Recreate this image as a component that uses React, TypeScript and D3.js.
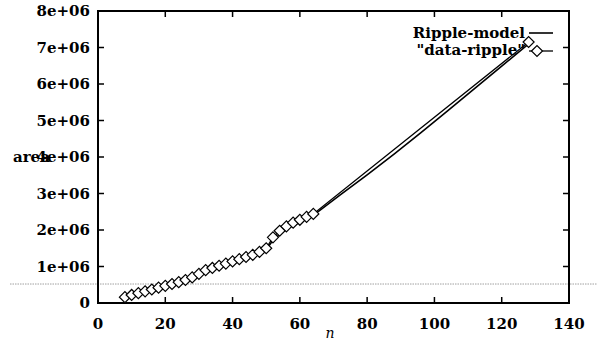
import React from "react";
import * as d3 from "d3";

const dataN = [8, 10, 12, 14, 16, 18, 20, 22, 24, 26, 28, 30, 32, 34, 36, 38, 40, 42, 44, 46, 48, 50, 52, 54, 56, 58, 60, 62, 64, 128];
const dataV = [0.16, 0.22, 0.27, 0.32, 0.37, 0.42, 0.47, 0.52, 0.57, 0.63, 0.70, 0.80, 0.90, 0.96, 1.02, 1.08, 1.14, 1.20, 1.26, 1.32, 1.40, 1.50, 1.80, 1.98, 2.10, 2.20, 2.28, 2.36, 2.44, 7.15];
const modelN = [8, 12, 16, 20, 24, 28, 32, 36, 40, 44, 48, 50, 52, 56, 60, 64, 72, 80, 88, 96, 104, 112, 120, 128];
const modelV = [0.12, 0.23, 0.33, 0.44, 0.55, 0.67, 0.85, 0.98, 1.11, 1.23, 1.36, 1.46, 1.72, 2.03, 2.22, 2.40, 2.96, 3.51, 4.08, 4.67, 5.27, 5.88, 6.49, 7.10];
const xTicks = [0, 20, 40, 60, 80, 100, 120, 140];
const yTicks = [0, 1, 2, 3, 4, 5, 6, 7, 8];
const yTickLabels = ["0", "1e+06", "2e+06", "3e+06", "4e+06", "5e+06", "6e+06", "7e+06", "8e+06"];
const scanLineValue = 0.52;

export default function App() {
  const W = 597, H = 345;
  const left = 98, right = 569, top = 11, bottom = 303;
  const x = d3.scaleLinear().domain([0, 140]).range([left, right]);
  const y = d3.scaleLinear().domain([0, 8]).range([bottom, top]);
  const font = "'DejaVu Serif', serif";
  const lineGen = d3.line<[number, number]>().x(d => x(d[0])).y(d => y(d[1]));
  const modelPath = lineGen(modelN.map((n, i) => [n, modelV[i]] as [number, number]));
  const dataPath = lineGen(dataN.map((n, i) => [n, dataV[i]] as [number, number]));
  const diamond = (cx: number, cy: number, r = 5.5) => `M${cx - r},${cy}L${cx},${cy - r}L${cx + r},${cy}L${cx},${cy + r}Z`;
  const tl = 6;
  return (
    <svg width={W} height={H} style={{ position: "absolute", left: 0, top: 0, background: "#fff" }} fontFamily={font}>
      <rect width={W} height={H} fill="#fff" />
      <line x1={10} x2={W} y1={y(scanLineValue)} y2={y(scanLineValue)} stroke="#888" strokeWidth={0.8} strokeDasharray="1.5,1" />
      {xTicks.map(t => (
        <g key={"x" + t}>
          <line x1={x(t)} x2={x(t)} y1={bottom} y2={bottom - tl} stroke="#000" strokeWidth={1.5} />
          <line x1={x(t)} x2={x(t)} y1={top} y2={top + tl} stroke="#000" strokeWidth={1.5} />
          <text x={x(t)} y={329} textAnchor="middle" fontSize={15} fontWeight="bold">{t}</text>
        </g>
      ))}
      {yTicks.map((t, i) => (
        <g key={"y" + t}>
          <line x1={left} x2={left + tl} y1={y(t)} y2={y(t)} stroke="#000" strokeWidth={1.5} />
          <line x1={right} x2={right - tl} y1={y(t)} y2={y(t)} stroke="#000" strokeWidth={1.5} />
          <text x={90} y={y(t) + 5} textAnchor="end" fontSize={15} fontWeight="bold">{yTickLabels[i]}</text>
        </g>
      ))}
      <rect x={left} y={top} width={right - left} height={bottom - top} fill="none" stroke="#000" strokeWidth={2} />
      <text x={13} y={162} fontSize={15} fontWeight="bold">area</text>
      <text x={330} y={338} fontSize={14} fontStyle="italic" textAnchor="middle">n</text>
      <path d={modelPath || ""} fill="none" stroke="#000" strokeWidth={1.6} />
      <path d={dataPath || ""} fill="none" stroke="#000" strokeWidth={1.3} />
      {dataN.map((n, i) => (
        <path key={"d" + n} d={diamond(x(n), y(dataV[i]))} fill="#fff" stroke="#000" strokeWidth={1.2} />
      ))}
      <text x={525} y={38} textAnchor="end" fontSize={15} fontWeight="bold">Ripple-model</text>
      <line x1={529} x2={553} y1={33} y2={33} stroke="#000" strokeWidth={1.6} />
      <text x={525} y={55} textAnchor="end" fontSize={15} fontWeight="bold">"data-ripple"</text>
      <line x1={529} x2={553} y1={51} y2={51} stroke="#000" strokeWidth={1.3} />
      <path d={diamond(537, 51)} fill="#fff" stroke="#000" strokeWidth={1.2} />
    </svg>
  );
}
